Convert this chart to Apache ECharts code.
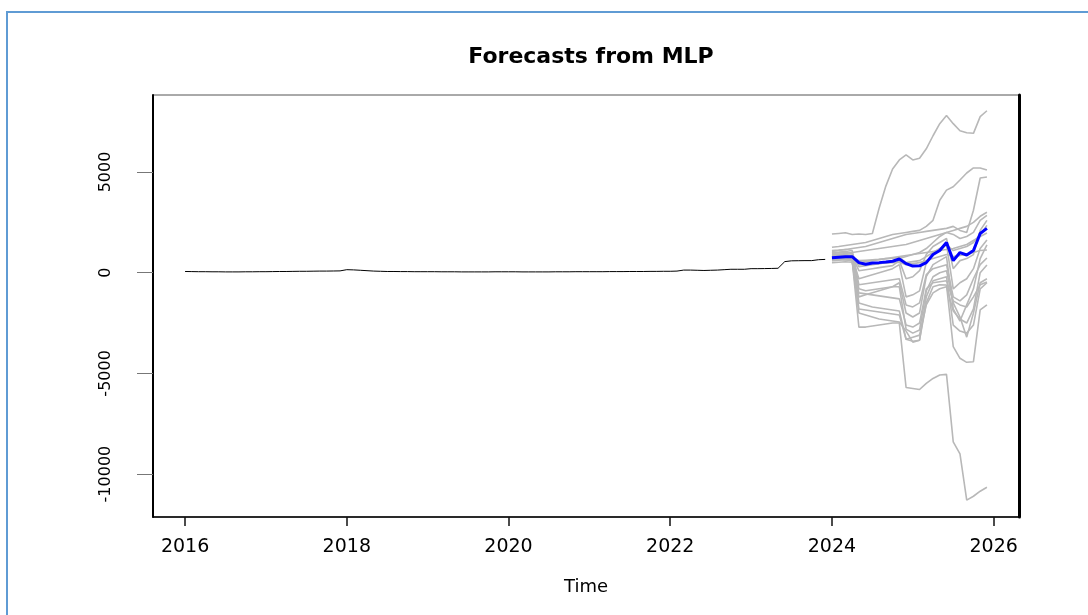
<!DOCTYPE html>
<html>
<head>
<meta charset="utf-8">
<script src="https://cdn.jsdelivr.net/npm/echarts@6/dist/echarts.min.js"></script>
<style>
html,body{margin:0;padding:0;background:#fff;}
#chart{width:1088px;height:615px;}
</style>
</head>
<body>
<div id="chart"></div>
<script>
// ---------- DATA ----------
const titleText = 'Forecasts from MLP';
const xAxisName = 'Time';
const xTickValues = [2016, 2018, 2020, 2022, 2024, 2026];
const yTickValues = [-10000, -5000, 0, 5000];
const histStart = 2016;      // Jan 2016, monthly
const forecastStart = 2024;  // Jan 2024, monthly

// observed series, one row per year (Jan..Dec)
const hist2016 = [60,55,50,50,45,45,40,40,40,45,45,50];
const hist2017 = [50,55,60,60,65,70,70,75,80,80,85,90];
const hist2018 = [150,140,120,100,80,70,60,60,55,55,50,50];
const hist2019 = [50,50,45,45,45,40,40,40,40,40,45,45];
const hist2020 = [45,45,40,40,40,40,40,45,45,45,50,50];
const hist2021 = [50,50,50,55,55,55,60,60,60,65,65,70];
const hist2022 = [70,80,130,130,120,110,120,130,150,170,170,170];
const hist2023 = [200,200,205,210,220,550,590,595,600,600,645,660];

// combined forecast (blue), Jan 2024..Dec 2025
const forecastMean = [745,770,790,795,500,420,480,500,530,570,680,450,330,340,500,900,1100,1500,600,1000,880,1100,1950,2200];

// individual network forecasts (grey)
const sim01 = [1920,1950,1980,1900,1920,1900,1950,3200,4300,5150,5600,5850,5600,5680,6150,6800,7400,7800,7400,7050,6950,6920,7750,8040];
const sim02 = [1260,1300,1350,1400,1450,1500,1600,1700,1800,1900,1950,2000,2050,2100,2300,2600,3600,4100,4270,4600,4950,5200,5200,5100];
const sim03 = [1050,1100,1150,1200,1250,1300,1400,1500,1600,1700,1800,1900,1950,2000,2050,2100,2150,2200,2300,2100,2000,3100,4700,4750];
const sim04 = [700,700,650,600,-2700,-2700,-2650,-2600,-2550,-2500,-2500,-5700,-5750,-5800,-5500,-5250,-5080,-5050,-8400,-9000,-11290,-11100,-10850,-10650];
const sim05 = [900,920,900,850,-1500,-1600,-1700,-1750,-1800,-1850,-1900,-3300,-3400,-3350,-1500,-700,-600,-610,-3670,-4250,-4450,-4420,-1850,-1600];
const sim06 = [1000,1020,1050,1000,-800,-900,-850,-800,-750,-700,-700,-2800,-3000,-2850,-900,-200,0,100,-1500,-2200,-3200,-2000,-500,-300];
const sim07 = [600,620,650,600,-2000,-2100,-2200,-2300,-2350,-2400,-2450,-2900,-3450,-3350,-1200,-400,-300,-200,-2600,-2900,-3000,-2600,-800,-500];
const sim08 = [880,900,950,1000,1050,1100,1150,1200,1250,1300,1350,1400,1500,1600,1700,1800,1900,2000,2100,2200,2300,2500,2800,3000];
const sim09 = [960,980,1000,950,300,350,400,450,500,550,700,800,900,1000,1200,1500,1800,2000,1900,1700,1800,2000,2600,2850];
const sim10 = [800,820,850,820,100,150,200,250,300,350,600,-300,-200,100,900,1300,1500,1700,200,600,700,900,2100,2600];
const sim11 = [665,700,720,700,500,550,600,650,700,750,800,850,900,950,1000,1050,1100,1150,1200,1300,1400,1600,1800,1970];
const sim12 = [750,760,780,760,-300,-200,-100,0,100,200,400,-1200,-1100,-900,500,900,1100,1400,-800,-500,-300,200,1200,1620];
const sim13 = [850,870,880,860,-1200,-1100,-1000,-900,-800,-700,-500,-2000,-2200,-2000,-200,400,600,800,-1800,-2400,-1600,-800,700,1380];
const sim14 = [700,710,720,700,400,420,440,460,480,500,520,400,450,500,600,700,800,900,800,850,900,1000,1100,1130];
const sim15 = [1100,1120,1150,1100,-600,-550,-500,-450,-400,-350,-300,-1600,-1700,-1500,-100,200,300,400,-1200,-1400,-1100,-300,400,730];
const sim16 = [650,660,670,650,-1800,-1850,-1900,-1950,-2000,-2050,-2100,-3300,-3200,-3100,-1600,-1000,-800,-700,-1900,-2300,-2500,-1800,0,380];
const sim17 = [500,520,540,520,-1000,-1050,-1100,-1150,-1200,-1250,-1300,-2600,-2700,-2500,-800,-500,-450,-400,-1400,-1600,-1700,-1200,-600,-460];
const sim18 = [780,790,800,780,600,620,640,660,700,720,750,500,550,600,800,1000,1200,1400,1100,1200,1300,1500,1900,2350];

// ---------- BUILD ----------
const histValues = [].concat(hist2016,hist2017,hist2018,hist2019,hist2020,hist2021,hist2022,hist2023);
const histData = histValues.map((v,i)=>[histStart + i/12, v]);
const toFc = arr => arr.map((v,i)=>[forecastStart + i/12, v]);
const sims = [sim01,sim02,sim03,sim04,sim05,sim06,sim07,sim08,sim09,sim10,sim11,sim12,sim13,sim14,sim15,sim16,sim17,sim18];

const FONT = 'DejaVu Sans';
const series = [];
sims.forEach((s,k)=>{
  series.push({
    name:'sim'+(k+1), type:'line', data:toFc(s), showSymbol:false, silent:true,
    lineStyle:{color:'#b8b8b8', width:1.6}, z:2
  });
});
series.push({type:'line', name:'observed', data:histData, showSymbol:false, silent:true,
  lineStyle:{color:'#000', width:1}, z:3});
series.push({type:'line', name:'forecast', data:toFc(forecastMean), showSymbol:false, silent:true,
  lineStyle:{color:'#0000ff', width:3}, z:4});

const chart = echarts.init(document.getElementById('chart'), null, {renderer:'canvas'});
chart.setOption({
  animation:false,
  backgroundColor:'#fff',
  title:{
    text:titleText, left:586, top:41, textAlign:'center',
    textStyle:{fontFamily:FONT, fontWeight:'bold', fontSize:22, color:'#000'}
  },
  grid:{left:153, right:69, top:95, bottom:98, show:true, borderColor:'#555', borderWidth:1, backgroundColor:'transparent'},
  xAxis:{
    type:'value', min:2015.6033, max:2026.3133,
    name:xAxisName, nameLocation:'middle', nameGap:61,
    nameTextStyle:{fontFamily:FONT, fontSize:18, color:'#000'},
    axisLine:{show:true, onZero:false, lineStyle:{color:'#000', width:1.5}},
    axisTick:{show:true, length:9, customValues:xTickValues, lineStyle:{color:'#111', width:1.5}},
    axisLabel:{show:true, customValues:xTickValues, margin:21, fontFamily:FONT, fontSize:19, color:'#000',
      formatter:v=>String(v)},
    splitLine:{show:false}
  },
  yAxis:[{
    type:'value', min:-12130, max:8823,
    axisLine:{show:true, onZero:false, lineStyle:{color:'#000', width:2}},
    axisTick:{show:true, length:16, customValues:yTickValues, lineStyle:{color:'#777', width:1}},
    axisLabel:{show:true, customValues:yTickValues, rotate:90, margin:39, fontFamily:FONT, fontSize:16, color:'#000',
      formatter:v=>String(v)},
    splitLine:{show:false}
  },{
    type:'value', min:-12130, max:8823, position:'right',
    axisLine:{show:true, onZero:false, lineStyle:{color:'#000', width:3}},
    axisTick:{show:false}, axisLabel:{show:false}, splitLine:{show:false}
  }],
  graphic:[{
    type:'rect', silent:true, z:-1,
    shape:{x:7, y:12, width:1200, height:800},
    style:{fill:'none', stroke:'#5f9bd4', lineWidth:2}
  }],
  series:series
});
</script>
</body>
</html>
